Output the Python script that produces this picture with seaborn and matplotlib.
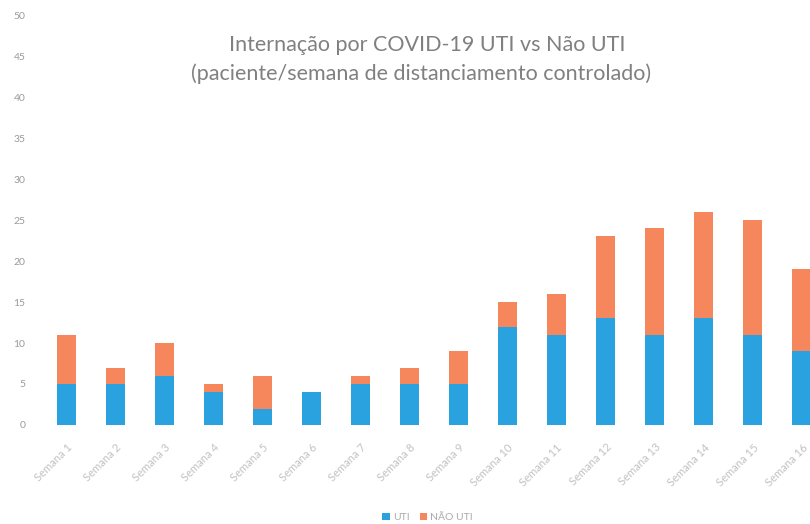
import matplotlib.pyplot as plt
import pandas as pd
import seaborn as sns

# valores (pacientes por semana)
semanas = [f"Semana {i}" for i in range(1, 17)]
uti = [5, 5, 6, 4, 2, 4, 5, 5, 5, 12, 11, 13, 11, 13, 11, 9]
total = [11, 7, 10, 5, 6, 4, 6, 7, 9, 15, 16, 23, 24, 26, 25, 19]
yticks = list(range(0, 55, 5))

sns.set_theme(style="white")
plt.rcParams['font.family'] = ['Lato', 'DejaVu Sans']

cor_uti = '#2AA2DF'
cor_nao = '#F6875C'
cinza = '#9a9a9a'

df = pd.DataFrame({'semana': semanas, 'uti': uti, 'total': total})

fig = plt.figure(figsize=(8.1, 5.24), dpi=100)
ax = fig.add_axes([0.052, 0.189, 0.968, 0.782])

# barra total (laranja) por baixo, UTI (azul) por cima -> empilhado
sns.barplot(data=df, x='semana', y='total', color=cor_nao, width=0.4,
            saturation=1, linewidth=0, ax=ax, label='NÃO UTI')
sns.barplot(data=df, x='semana', y='uti', color=cor_uti, width=0.4,
            saturation=1, linewidth=0, ax=ax, label='UTI')

ax.set_ylim(0, 50)
ax.set_xlim(-0.5, len(semanas) - 0.5)
ax.set_yticks(yticks)
ax.set_yticklabels([str(t) for t in yticks], fontsize=7.5, color=cinza)
ax.tick_params(axis='y', pad=12, length=0)
ax.tick_params(axis='x', length=0, pad=12)
ax.set_xticks(range(len(semanas)))
ax.set_xticklabels(semanas, rotation=45, ha='right', rotation_mode='anchor',
                   fontsize=8, color='#c2c2c2')
ax.set_xlabel('')
ax.set_ylabel('')
for s in ax.spines.values():
    s.set_visible(False)

fig.text(0.527, 0.914, 'Internação por COVID-19 UTI vs Não UTI',
         ha='center', va='center', fontsize=15.5, color='#808080')
fig.text(0.52, 0.859, '(paciente/semana de distanciamento controlado)',
         ha='center', va='center', fontsize=15.5, color='#808080')

handles, labels = ax.get_legend_handles_labels()
order = [labels.index('UTI'), labels.index('NÃO UTI')]
fig.legend([handles[i] for i in order], [labels[i] for i in order],
           loc='center', bbox_to_anchor=(0.528, 0.012), ncol=2, frameon=False,
           fontsize=7.5, handlelength=0.7, handleheight=0.7, handletextpad=0.3,
           columnspacing=1.0, labelcolor='#aaaaaa')
if ax.get_legend():
    ax.get_legend().remove()

fig.savefig('out.png', dpi=100)
